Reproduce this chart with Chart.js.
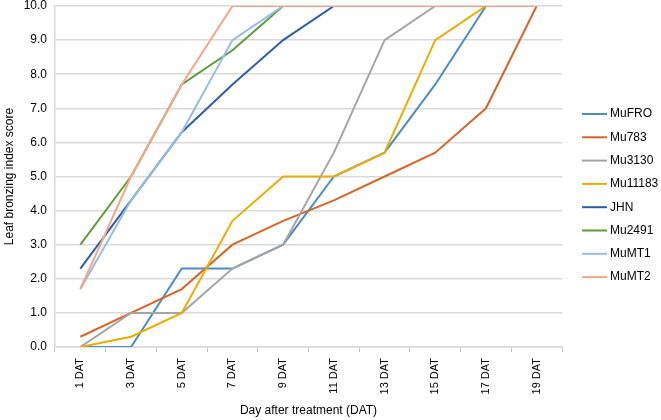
<!DOCTYPE html>
<html lang="en">
<head>
    <meta charset="UTF-8">
    <title>Leaf bronzing index score</title>
    <script src="https://cdn.jsdelivr.net/npm/chart.js@4.4.0/dist/chart.umd.min.js"></script>
    <style>
        html, body { margin: 0; padding: 0; background: #fff; }
        #wrap { width: 661px; height: 420px; position: relative; }
    </style>
</head>
<body>
    <div id="wrap"><canvas id="chart"></canvas></div>

    <script>
        // Data
        const days = ['1 DAT', '3 DAT', '5 DAT', '7 DAT', '9 DAT', '11 DAT', '13 DAT', '15 DAT', '17 DAT', '19 DAT'];

        const muFRO   = [0.0, 0.0, 2.3, 2.3, 3.0, 5.0, 5.7, 7.7, 10.0, 10.0];
        const mu783   = [0.3, 1.0, 1.7, 3.0, 3.7, 4.3, 5.0, 5.7, 7.0, 10.0];
        const mu3130  = [0.0, 1.0, 1.0, 2.3, 3.0, 5.7, 9.0, 10.0, 10.0, 10.0];
        const mu11183 = [0.0, 0.3, 1.0, 3.7, 5.0, 5.0, 5.7, 9.0, 10.0, 10.0];
        const jhn     = [2.3, 4.3, 6.3, 7.7, 9.0, 10.0, 10.0, 10.0, 10.0, 10.0];
        const mu2491  = [3.0, 5.0, 7.7, 8.7, 10.0, 10.0, 10.0, 10.0, 10.0, 10.0];
        const muMT1   = [1.7, 4.3, 6.3, 9.0, 10.0, 10.0, 10.0, 10.0, 10.0, 10.0];
        const muMT2   = [1.7, 5.0, 7.7, 10.0, 10.0, 10.0, 10.0, 10.0, 10.0, 10.0];

        const seriesNames = ['MuFRO', 'Mu783', 'Mu3130', 'Mu11183', 'JHN', 'Mu2491', 'MuMT1', 'MuMT2'];
        const seriesData = [muFRO, mu783, mu3130, mu11183, jhn, mu2491, muMT1, muMT2];
        const seriesColors = ['#4A8CC6', '#D4662A', '#A5A5A5', '#E9AD05', '#2D5DA8', '#5C9D3A', '#94BDE6', '#F4A68A'];

        const font = 'Liberation Sans';

        // later series drawn on top, as in the original
        const datasets = seriesNames.map((name, i) => ({
            label: name,
            data: seriesData[i],
            borderColor: seriesColors[i],
            backgroundColor: seriesColors[i],
            borderWidth: 2,
            pointRadius: 0,
            tension: 0,
            fill: false,
            order: seriesNames.length - i
        }));

        // legend on the right, drawn like the Excel one (line sample + name)
        const sideLegend = {
            id: 'sideLegend',
            afterDraw(chart) {
                const ctx = chart.ctx;
                const x0 = chart.chartArea.right + 20;
                let y = 114;
                ctx.save();
                ctx.font = '12px ' + font;
                ctx.textBaseline = 'middle';
                chart.data.datasets.forEach(ds => {
                    ctx.strokeStyle = ds.borderColor;
                    ctx.lineWidth = 2;
                    ctx.beginPath();
                    ctx.moveTo(x0, y);
                    ctx.lineTo(x0 + 25, y);
                    ctx.stroke();
                    ctx.fillStyle = '#000';
                    ctx.fillText(ds.label, x0 + 28, y);
                    y += 23.3;
                });
                ctx.restore();
            }
        };

        new Chart(document.getElementById('chart'), {
            type: 'line',
            data: { labels: days, datasets: datasets },
            plugins: [sideLegend],
            options: {
                responsive: true,
                maintainAspectRatio: false,
                animation: false,
                layout: { padding: { top: 0, left: 2, right: 99, bottom: 0 } },
                plugins: {
                    tooltip: { enabled: false },
                    legend: { display: false }
                },
                scales: {
                    x: {
                        offset: true,
                        afterFit: s => { s.height = 73; },
                        grid: {
                            offset: true,
                            drawOnChartArea: false,
                            drawTicks: true,
                            tickLength: 5,
                            color: '#BFBFBF'
                        },
                        border: { display: true, color: '#D9D9D9', width: 1.5 },
                        ticks: {
                            minRotation: 90,
                            maxRotation: 90,
                            padding: 6,
                            color: '#000',
                            font: { family: font, size: 11 }
                        },
                        title: {
                            display: true,
                            text: 'Day after treatment (DAT)',
                            color: '#000',
                            font: { family: font, size: 12 },
                            padding: { top: 0, bottom: 2 }
                        }
                    },
                    y: {
                        min: 0,
                        max: 10,
                        afterFit: s => { s.width = 53; s.paddingTop = 6; s.paddingBottom = 0; },
                        grid: { color: '#D9D9D9', lineWidth: 1.5, drawTicks: false },
                        border: { display: true, color: '#D9D9D9', width: 1.5 },
                        ticks: {
                            stepSize: 1,
                            padding: 8,
                            color: '#000',
                            font: { family: font, size: 12 },
                            callback: v => Number(v).toFixed(1)
                        },
                        title: {
                            display: true,
                            text: 'Leaf bronzing index score',
                            color: '#000',
                            font: { family: font, size: 12 },
                            padding: { top: 0, bottom: 4 }
                        }
                    }
                }
            }
        });
    </script>
</body>
</html>
